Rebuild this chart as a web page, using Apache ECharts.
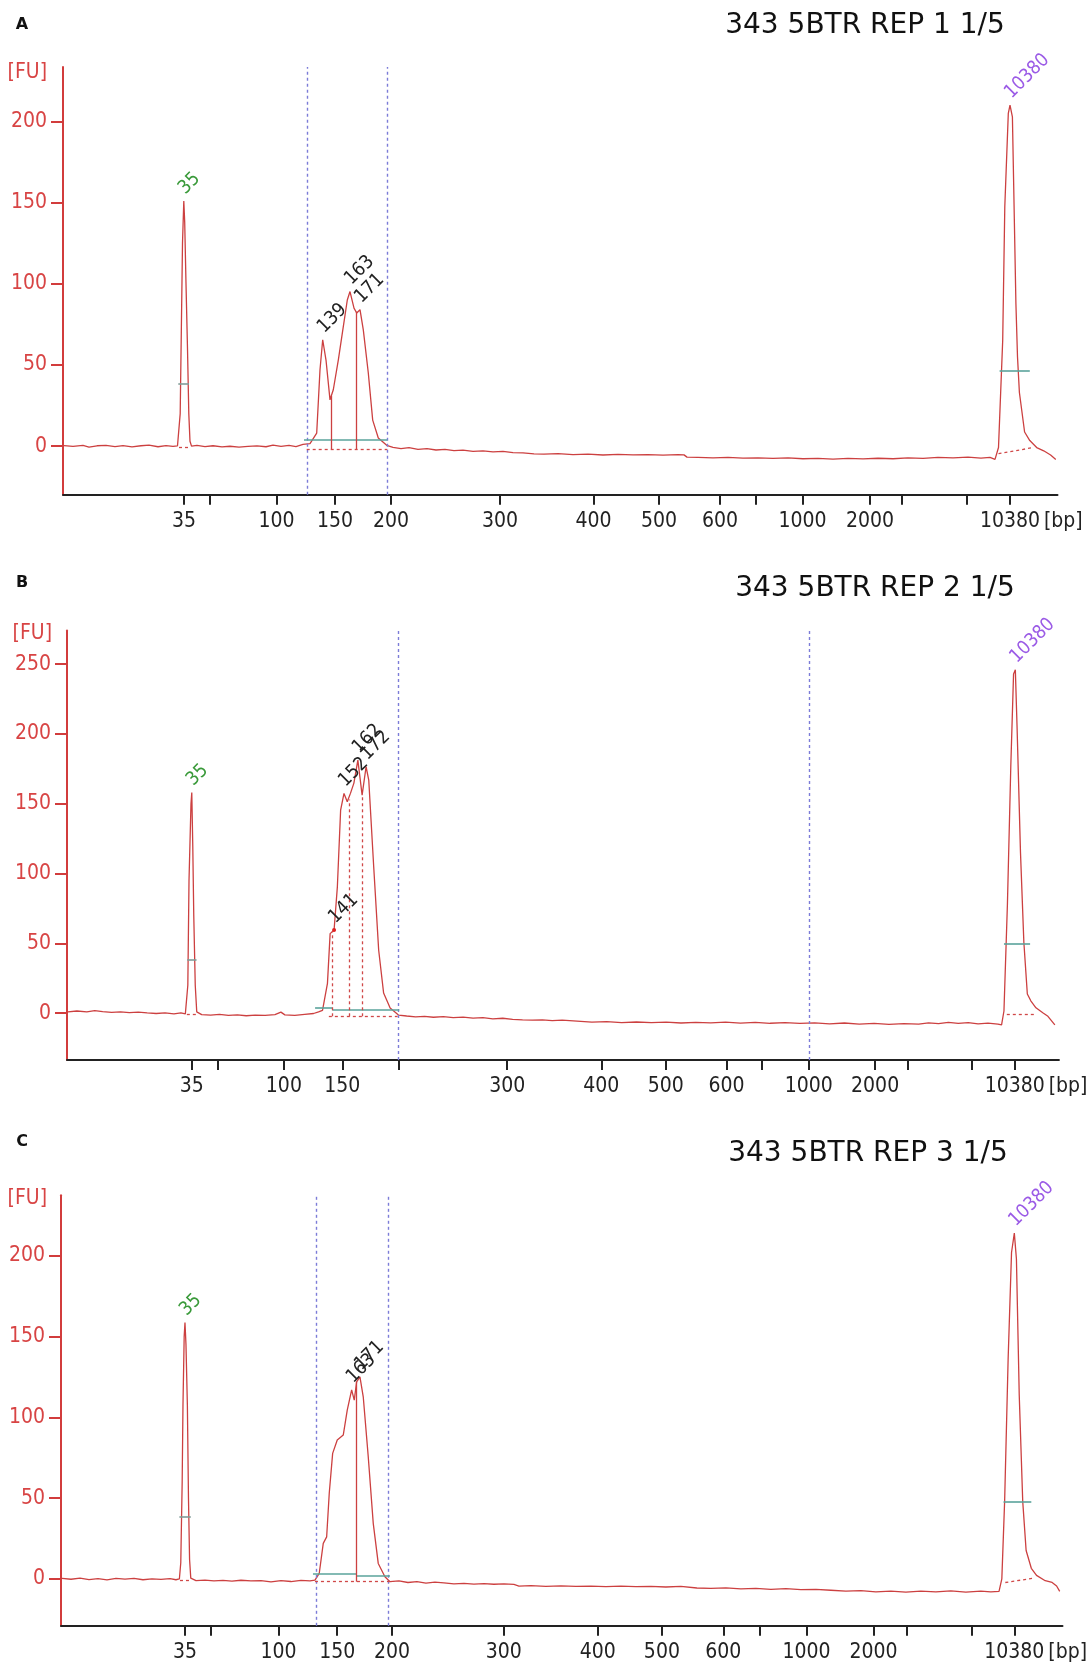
<!DOCTYPE html>
<html>
<head>
<meta charset="utf-8">
<title>343 5BTR REP 1-3 1/5</title>
<script src="https://cdn.jsdelivr.net/npm/echarts@6/dist/echarts.min.js"></script>
<style>
  html, body { margin: 0; padding: 0; background: #fff; }
  #app { width: 1088px; height: 1667px; }
</style>
</head>
<body>
<div id="app"></div>
<script>
// ladder sizes (bp) and where each sits on the migration axis of each run
const ladderBp = [35, 50, 100, 150, 200, 300, 400, 500, 600, 700, 1000, 2000, 3000, 7000, 10380];
const ladderPosA = [12.1, 14.7, 21.35, 27.2, 32.8, 43.7, 53.06, 59.6, 65.7, 69.3, 73.95, 80.7, 83.9, 90.4, 94.7];
const ladderPosB = [12.6, 15.2, 21.9, 27.8, 33.45, 44.45, 53.95, 60.47, 66.6, 70.2, 74.9, 81.6, 84.9, 91.4, 95.7];
const ladderPosC = [12.4, 14.96, 21.76, 27.63, 33.1, 44.28, 53.68, 60.1, 66.24, 69.88, 74.57, 81.26, 84.56, 91.08, 95.35];
const shownBpA = [35, 100, 150, 200, 300, 400, 500, 600, 1000, 2000, 10380];
const shownBpB = [35, 100, 150, 300, 400, 500, 600, 1000, 2000, 10380];
const shownBpC = [35, 100, 150, 200, 300, 400, 500, 600, 1000, 2000, 10380];
const fuTicksA = [0, 50, 100, 150, 200];
const fuTicksB = [0, 50, 100, 150, 200, 250];
const fuTicksC = [0, 50, 100, 150, 200];

// traces: [migration position, FU]
const traceA = [
  [0.1, 0.3], [1.0, -0.2], [2.0, 0.4], [2.6, -0.6], [3.4, 0.2], [4.3, 0.5], [5.2, -0.3], [6.0, 0.3],
  [6.9, -0.5], [7.8, 0.2], [8.6, 0.6], [9.5, -0.4], [10.3, 0.3], [11.0, -0.2], [11.45, 0.2],
  [11.6, 1], [11.72, 20], [11.83, 70], [11.95, 125], [12.08, 151], [12.17, 138], [12.3, 100],
  [12.45, 60], [12.58, 20], [12.7, 3], [12.85, 0],
  [13.4, 0.4], [14.2, -0.3], [15.0, 0.2], [15.9, -0.5], [16.7, -0.1], [17.6, -0.6], [18.5, -0.2],
  [19.4, 0.1], [20.3, -0.4], [21.0, 0.6], [21.8, -0.2], [22.6, 0.4], [23.3, -0.3], [24.0, 1.0],
  [24.7, 1.5], [25.37, 8], [25.7, 47], [25.97, 65.5], [26.3, 53], [26.7, 28.5], [27.03, 34.7],
  [27.53, 53], [28.03, 73.6], [28.43, 90], [28.7, 95.2], [29.1, 85], [29.37, 82], [29.7, 84],
  [30.03, 71.6], [30.53, 45], [30.97, 16], [31.53, 5], [32.37, 0.5],
  [33.0, -0.8], [33.8, -1.5], [34.6, -1.0], [35.5, -2.0], [36.4, -1.6], [37.3, -2.4], [38.2, -2.0],
  [39.1, -2.8], [40.0, -2.5], [41.0, -3.2], [42.0, -3.0], [43.0, -3.6], [44.0, -3.3], [45.0, -4.0],
  [46.0, -4.2], [47.1, -4.8], [48.1, -5.0], [49.5, -4.7], [51.0, -5.3], [52.5, -5.0], [54.0, -5.5],
  [55.5, -5.1], [57.0, -5.4], [58.5, -5.2], [60.0, -5.6], [61.5, -5.3], [62.1, -5.4], [62.4, -6.8],
  [63.5, -6.9], [65.0, -7.2], [66.5, -6.9], [68.0, -7.4], [69.5, -7.3], [71.0, -7.6], [72.5, -7.2],
  [74.0, -7.8], [75.5, -7.6], [77.0, -8.0], [78.5, -7.6], [80.0, -7.9], [81.5, -7.5], [83.0, -7.8],
  [84.5, -7.2], [86.0, -7.6], [87.5, -6.9], [89.0, -7.3], [90.5, -6.8], [91.8, -7.4], [92.7, -7.0],
  [93.2, -8.2], [93.55, -0.9], [93.97, 65], [94.18, 147.6], [94.53, 204.9], [94.7, 210],
  [94.94, 202.8], [95.29, 88], [95.45, 55], [95.64, 33], [96.16, 8.7], [96.68, 3.4], [97.37, -0.9],
  [98.07, -2.9], [98.76, -5.5], [99.28, -8.2]
];
const traceB = [
  [0.1, 1.0], [1.0, 1.6], [2.0, 1.0], [2.8, 1.8], [3.6, 1.2], [4.5, 0.6], [5.4, 1.0], [6.3, 0.4],
  [7.2, 0.8], [8.1, 0.2], [9.0, -0.2], [9.9, 0.3], [10.8, -0.4], [11.5, 0.2], [11.95, -0.5],
  [12.05, 0], [12.2, 20], [12.32, 95], [12.52, 150], [12.6, 158], [12.7, 120], [12.8, 70],
  [12.95, 20], [13.1, 1],
  [13.6, -1.0], [14.5, -1.4], [15.4, -0.8], [16.3, -1.6], [17.2, -1.2], [18.1, -1.8], [19.0, -1.3],
  [20.0, -1.6], [21.0, -1.0], [21.6, 0.8], [22.0, -1.2], [23.0, -1.6], [24.0, -0.8], [24.9, -0.2],
  [25.4, 1.0], [25.8, 2], [26.3, 21.4], [26.57, 57], [26.97, 59.6], [27.3, 90.5], [27.63, 145.5],
  [27.97, 157.4], [28.3, 151.4], [28.63, 157.6], [28.97, 164.8], [29.37, 181.2], [29.8, 156.2],
  [30.2, 176.5], [30.47, 167], [30.97, 104.9], [31.47, 45.3], [31.97, 14.5], [32.63, 3.7],
  [33.47, -1.3],
  [34.3, -2.0], [35.2, -2.6], [36.1, -2.2], [37.0, -2.9], [38.0, -2.5], [39.0, -3.2], [40.0, -2.8],
  [41.0, -3.5], [42.0, -3.2], [43.0, -4.0], [44.0, -3.6], [45.0, -4.4], [46.0, -4.8], [47.0, -5.0],
  [48.0, -4.8], [49.0, -5.3], [50.0, -5.0], [51.5, -5.6], [53.0, -6.4], [54.5, -6.0], [56.0, -6.7],
  [57.5, -6.3], [59.0, -6.8], [60.5, -6.4], [62.0, -7.0], [63.5, -6.5], [65.0, -6.9], [66.5, -6.4],
  [68.0, -7.1], [69.5, -6.6], [71.0, -7.2], [72.5, -6.8], [74.0, -7.3], [75.5, -6.9], [77.0, -7.6],
  [78.5, -7.0], [80.0, -7.8], [81.5, -7.3], [83.0, -8.0], [84.5, -7.4], [86.0, -7.8], [87.0, -6.9],
  [88.0, -7.5], [89.0, -6.6], [90.0, -7.2], [91.0, -6.8], [92.0, -7.6], [93.0, -7.1], [94.0, -7.8],
  [94.37, -8.4], [94.61, 1.6], [94.96, 78], [95.3, 176.5], [95.58, 243], [95.76, 246], [95.93, 206],
  [96.28, 115], [96.62, 50.8], [96.97, 13.8], [97.32, 8.9], [97.84, 3.9], [98.53, 0.3], [99.05, -2.2],
  [99.75, -8.4]
];
const traceC = [
  [0.1, 0.3], [1.0, -0.2], [1.9, 0.5], [2.8, -0.4], [3.7, 0.2], [4.6, -0.6], [5.5, 0.3], [6.4, -0.1],
  [7.3, 0.4], [8.2, -0.5], [9.1, 0.1], [10.0, -0.3], [10.9, 0.2], [11.5, -0.5],
  [11.84, 0], [11.98, 10], [12.12, 60], [12.2, 107.7], [12.32, 150], [12.4, 158.7], [12.5, 145],
  [12.64, 107.7], [12.75, 50], [12.86, 12], [12.98, 0.5],
  [13.5, -1.0], [14.4, -0.7], [15.3, -1.2], [16.2, -0.9], [17.1, -1.3], [18.0, -0.8], [19.0, -1.2],
  [20.0, -1.0], [21.0, -1.8], [22.0, -1.0], [23.0, -1.6], [24.0, -0.9], [24.9, -1.2],
  [25.4, -0.7], [25.83, 3.5], [26.23, 22], [26.57, 26], [26.83, 53], [27.17, 77.7], [27.63, 86],
  [28.23, 89], [28.63, 104.5], [29.07, 117], [29.33, 110.7], [29.57, 122], [29.9, 125],
  [30.23, 112.7], [30.73, 75.6], [31.23, 34.4], [31.73, 9.6], [32.4, 1.4], [32.9, -1.7],
  [33.8, -1.2], [34.7, -2.2], [35.6, -1.6], [36.5, -2.6], [37.4, -2.0], [38.3, -2.4], [39.3, -3.0],
  [40.3, -2.8], [41.3, -3.2], [42.3, -2.9], [43.3, -3.3], [44.3, -3.0], [45.3, -3.4], [45.8, -4.4],
  [47.0, -4.2], [48.5, -4.6], [50.0, -4.3], [51.5, -4.6], [53.0, -4.4], [54.5, -4.7], [56.0, -4.5],
  [57.5, -4.8], [59.0, -4.6], [60.5, -5.0], [62.0, -4.6], [63.6, -5.6], [65.0, -5.9], [66.5, -5.5],
  [68.0, -6.2], [69.5, -5.8], [71.0, -6.4], [72.5, -6.0], [74.0, -6.6], [75.5, -6.4], [77.0, -7.0],
  [78.5, -7.6], [80.0, -7.2], [81.5, -8.0], [83.0, -7.5], [84.5, -8.2], [86.0, -7.6], [87.5, -8.0],
  [89.0, -7.4], [90.5, -8.1], [92.0, -7.6], [93.0, -8.0], [93.82, -7.7],
  [94.1, 0], [94.38, 48], [94.73, 136], [95.07, 202], [95.35, 214], [95.56, 198], [95.84, 114],
  [96.19, 48], [96.53, 17.6], [97.05, 6.6], [97.57, 2.2], [98.44, -1.1], [99.13, -2.2],
  [99.58, -4.4], [99.89, -7.7]
];

// peak calls: [text, position, FU, kind]
const peaksA = [['35', 12.08, 151, 'low'], ['139', 25.97, 65.5, 'sample'], ['163', 28.7, 95.2, 'sample'],
  ['171', 29.7, 84, 'sample'], ['10380', 94.7, 210, 'high']];
const peaksB = [['35', 12.6, 158, 'low'], ['141', 26.97, 59.6, 'sample'], ['152', 27.97, 157.4, 'sample'],
  ['162', 29.37, 181.2, 'sample'], ['172', 30.2, 176.5, 'sample'], ['10380', 95.76, 246, 'high']];
const peaksC = [['35', 12.4, 158.7, 'low'], ['163', 29.07, 117, 'sample'], ['171', 29.9, 125, 'sample'],
  ['10380', 95.35, 214, 'high']];
// selected-peak dots
const dotsB = [[26.97, 59.6]];

// region limits (dotted blue), and the software's baseline / width marks: [x1, y1, x2, y2]
const regionA = [24.44, 32.4];
const regionB = [33.45, 74.9];
const regionC = [25.48, 32.76];
const widthMarksA = [[24.1, 3.9, 32.43, 3.9], [93.66, 46.7, 96.68, 46.7]];
const widthMarksB = [[25.05, 4, 26.8, 4], [26.8, 2.7, 33.55, 2.7], [94.61, 50, 97.25, 50]];
const widthMarksC = [[25.2, 3.5, 29.57, 3.5], [29.57, 2, 32.9, 2], [94.27, 48, 97.05, 48]];
const ladderMarksA = [[11.53, 38.4, 12.6, 38.4]];
const ladderMarksB = [[12.14, 38.5, 13.08, 38.5]];
const ladderMarksC = [[11.84, 38.5, 12.98, 38.5]];
const baseMarksA = [[24.37, -1.8, 32.43, -1.8], [93.55, -4.7, 97.02, -0.9], [11.6, -0.8, 12.7, -0.8]];
const baseMarksB = [[26.44, -2.2, 33.38, -2.2], [26.8, -2.2, 26.8, 59], [28.53, -2.2, 28.53, 153],
  [29.8, -2.2, 29.8, 156], [94.9, -0.5, 97.66, -0.5], [12.1, -1.0, 13.1, -1.0]];
const baseMarksC = [[25.4, -1.7, 32.9, -1.7], [94.45, -2.2, 97.22, 0.4], [11.9, -1.0, 13.0, -1.0]];
const splitMarksA = [[26.87, -1.8, 26.87, 31], [29.3, -1.8, 29.3, 82.8]];
const splitMarksB = [];
const splitMarksC = [[29.57, -1.7, 29.57, 122]];

const FONT = '"Liberation Sans Narrow", "DejaVu Sans Condensed", sans-serif';
const RED = '#d23c3c';
const peakColors = { low: '#3a9a3a', sample: '#222', high: '#9b5be6' };

function segs(list, style) {
  return list.map(s => [
    { coord: [s[0], s[1]], lineStyle: style },
    { coord: [s[2], s[3]] }
  ]);
}

function panel(i, p) {
  const shownPos = p.shown.map(bp => p.ladderPos[ladderBp.indexOf(bp)]);
  // label offset is given in the rotated text frame
  const labels = p.peaks.map(pk => ({
    coord: [pk[1], pk[2]], value: pk[0], symbolSize: 0,
    label: {
      show: true, position: 'inside', formatter: pk[0], rotate: 45,
      align: 'left', verticalAlign: 'bottom', offset: [5.5, 1.2],
      color: peakColors[pk[3]], fontFamily: FONT, fontSize: 19
    }
  }));
  const dots = (p.dots || []).map(d => ({
    coord: d, symbolSize: 4, itemStyle: { color: '#e02020' }, label: { show: false }
  }));
  return {
    grid: { left: p.box[0], top: p.box[1], width: p.box[2], height: p.box[3] },
    xAxis: {
      type: 'value', gridIndex: i, min: 0, max: p.box[2] / 10,
      axisLine: { show: true, onZero: false, lineStyle: { color: '#222', width: 2 } },
      axisTick: { show: true, customValues: p.ladderPos, length: 10, lineStyle: { color: '#222', width: 2 } },
      axisLabel: {
        customValues: shownPos, margin: 16, color: '#222', fontFamily: FONT, fontSize: 21,
        formatter: v => {
          const k = p.ladderPos.findIndex(q => Math.abs(q - v) < 1e-6);
          return k < 0 ? '' : String(ladderBp[k]);
        }
      },
      splitLine: { show: false },
      name: '[bp]', nameLocation: 'end', nameGap: p.bpGap,
      nameTextStyle: { color: '#222', fontFamily: FONT, fontSize: 21, align: 'left', verticalAlign: 'top', padding: [16, 0, 0, 0] }
    },
    yAxis: {
      type: 'value', gridIndex: i, min: p.fu[0], max: p.fu[1],
      axisLine: { show: true, onZero: false, lineStyle: { color: RED, width: 2 } },
      axisTick: { show: true, customValues: p.fuTicks, length: 12, lineStyle: { color: RED, width: 2 } },
      axisLabel: { customValues: p.fuTicks, margin: 16, color: '#d84444', fontFamily: FONT, fontSize: 21 },
      splitLine: { show: false },
      name: '[FU]', nameLocation: 'end', nameGap: p.fuGap,
      nameTextStyle: { color: '#d84444', fontFamily: FONT, fontSize: 21, align: 'right', verticalAlign: 'middle', padding: [0, p.fuPad, 0, 0] }
    },
    series: {
      type: 'line', xAxisIndex: i, yAxisIndex: i, data: p.trace,
      showSymbol: false, symbol: 'none', animation: false,
      lineStyle: { color: '#cc4040', width: 1.3 },
      markLine: {
        silent: true, symbol: ['none', 'none'], animation: false,
        label: { show: false },
        lineStyle: { color: '#7c7cd8', type: [3, 3], width: 1.4 },
        data: [
          ...p.region.map(x => ({ xAxis: x })),
          ...segs(p.widthMarks, { color: '#5aa39b', type: 'solid', width: 1.6 }),
          ...segs(p.ladderMarks, { color: '#809c98', type: 'solid', width: 1.6 }),
          ...segs(p.baseMarks, { color: '#d04848', type: [3, 3], width: 1.3 }),
          ...segs(p.splitMarks, { color: '#cc4040', type: 'solid', width: 1.3 })
        ]
      },
      markPoint: {
        silent: true, animation: false, symbol: 'circle', symbolSize: 0,
        data: labels.concat(dots)
      }
    }
  };
}

const panels = [
  panel(0, { box: [63, 67, 994.5, 427.8], fu: [-30, 233.5], fuTicks: fuTicksA, ladderPos: ladderPosA, shown: shownBpA,
    trace: traceA, peaks: peaksA, region: regionA, widthMarks: widthMarksA, ladderMarks: ladderMarksA,
    baseMarks: baseMarksA, splitMarks: splitMarksA, bpGap: -19, fuGap: -5.5, fuPad: 16 }),
  panel(1, { box: [67, 630.6, 1001.6, 429.4], fu: [-33.5, 274], fuTicks: fuTicksB, ladderPos: ladderPosB, shown: shownBpB,
    trace: traceB, peaks: peaksB, dots: dotsB, region: regionB, widthMarks: widthMarksB, ladderMarks: ladderMarksB,
    baseMarks: baseMarksB, splitMarks: splitMarksB, bpGap: -25, fuGap: -3.4, fuPad: 15 }),
  panel(2, { box: [61, 1195.3, 1001.7, 430.5], fu: [-29, 237.4], fuTicks: fuTicksC, ladderPos: ladderPosC, shown: shownBpC,
    trace: traceC, peaks: peaksC, region: regionC, widthMarks: widthMarksC, ladderMarks: ladderMarksC,
    baseMarks: baseMarksC, splitMarks: splitMarksC, bpGap: -19, fuGap: -3.5, fuPad: 14 })
];

const headings = [
  ['A', 22, 25, '343 5BTR REP 1 1/5', 865, 26],
  ['B', 22, 583, '343 5BTR REP 2 1/5', 875, 589],
  ['C', 22, 1142, '343 5BTR REP 3 1/5', 868, 1154]
];

const graphic = [];
headings.forEach(h => {
  graphic.push({ type: 'text', x: h[1], y: h[2], style: { text: h[0], fill: '#111', font: 'bold 16px "DejaVu Sans", sans-serif', align: 'center', verticalAlign: 'middle' } });
  graphic.push({ type: 'text', x: h[4], y: h[5], style: { text: h[3], fill: '#111', font: '28px "DejaVu Sans", sans-serif', align: 'center', verticalAlign: 'middle' } });
});

const chart = echarts.init(document.getElementById('app'), null, { renderer: 'canvas' });
chart.setOption({
  backgroundColor: '#fff',
  animation: false,
  graphic: graphic,
  grid: panels.map(p => p.grid),
  xAxis: panels.map(p => p.xAxis),
  yAxis: panels.map(p => p.yAxis),
  series: panels.map(p => p.series)
});
</script>
</body>
</html>
